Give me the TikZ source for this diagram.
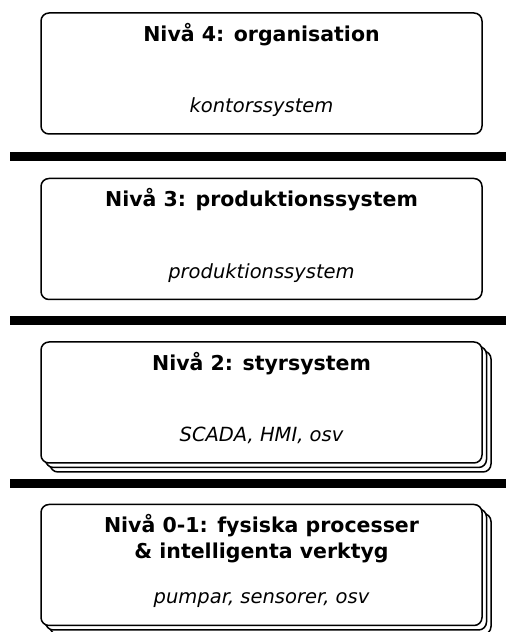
\documentclass[tikz,border=0pt]{standalone}
\usepackage{fontspec}
\setmainfont{DejaVu Sans}
\usetikzlibrary{positioning}
\usetikzlibrary{shadows}

\tikzset {
  level box/.style = {
    draw = black,
    line width = 1.5pt,
    rounded corners = 8pt,
    fill = white,
    minimum width = 441pt,
    minimum height = 121pt
  },
  % box with two copies stacked behind it
  stacked box/.style = {
    level box,
    copy shadow = {shadow xshift = 9pt, shadow yshift = -9pt},
    copy shadow = {shadow xshift = 4.5pt, shadow yshift = -4.5pt}
  },
  level title/.style = {
    anchor = base,
    inner sep = 0,
    align = center,
    font = \bfseries\fontsize{20.5}{26}\selectfont
  },
  level desc/.style = {
    anchor = base,
    inner sep = 0,
    font = \itshape\fontsize{19.5}{24}\selectfont
  },
  % thick bar between two levels
  divider/.style = {
    line width = 9pt
  },
  node distance = 43pt
}

\begin{document}
\begin{tikzpicture}[x=1pt, y=1pt]
    \useasboundingbox (0,0) rectangle (506,632);

    \node[level box] (org) at (261.5,558.5) {};
    \node[level box] (prod) [below=of org] {};
    \node[stacked box] (styr) [below=41pt of prod] {};
    \node[stacked box] (fys) [below=40pt of styr] {};

    \node[level title] (org-title) at ([yshift=-29pt]org.north) {Nivå 4: organisation};
    \node[level desc] (org-desc) at ([yshift=22pt]org.south) {kontorssystem};

    \node[level title] (prod-title) at ([yshift=-29pt]prod.north) {Nivå 3: produktionssystem};
    \node[level desc] (prod-desc) at ([yshift=22pt]prod.south) {produktionssystem};

    \node[level title] (styr-title) at ([yshift=-29pt]styr.north) {Nivå 2: styrsystem};
    \node[level desc] (styr-desc) at ([yshift=22pt]styr.south) {SCADA, HMI, osv};

    % two lines: base sits on the second one
    \node[level title] (fys-title) at ([yshift=-55pt]fys.north)
      {Nivå 0-1: fysiska processer\\ \& intelligenta verktyg};
    \node[level desc] (fys-desc) at ([yshift=23pt]fys.south) {pumpar, sensorer, osv};

    % bars halfway between the levels
    \path (org.south) -- (prod.north) coordinate[pos=0.5] (sep-1);
    \path (prod.south) -- (styr.north) coordinate[pos=0.5] (sep-2);
    \path (styr.south) -- (fys.north) coordinate[pos=0.5] (sep-3);

    \foreach \s in {sep-1, sep-2, sep-3}
      \draw[divider] (10,0 |- \s) -- (506,0 |- \s);
  \end{tikzpicture}
\end{document}
